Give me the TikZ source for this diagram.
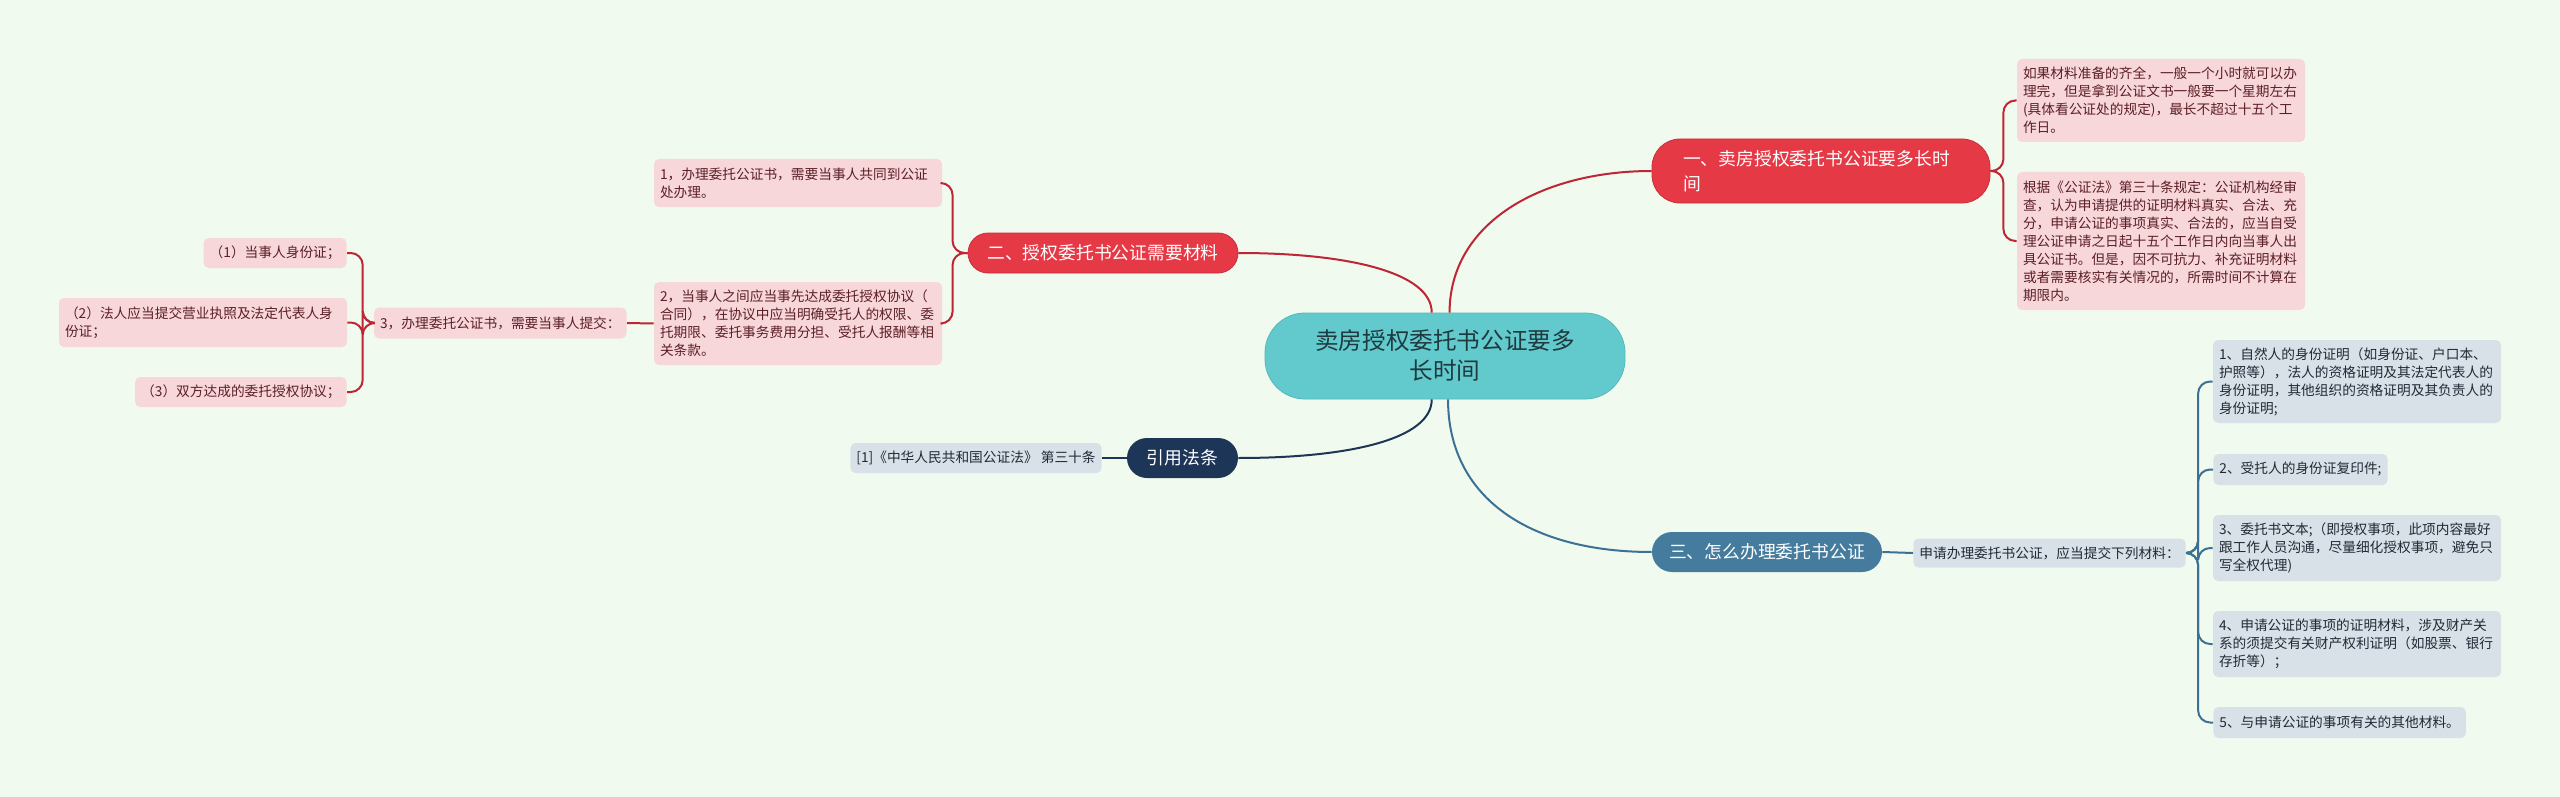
\documentclass[tikz,border=0pt]{standalone}
\usepackage{fontspec}
\setmainfont{Noto Sans CJK SC}
\usetikzlibrary{calc}
\definecolor{bgmint}{HTML}{F1FAEE}
\definecolor{rootteal}{HTML}{62CACD}
\definecolor{rootedge}{HTML}{52B9BC}
\definecolor{roottext}{HTML}{1E3A3F}
\definecolor{topicred}{HTML}{E63946}
\definecolor{topicredge}{HTML}{C92F3C}
\definecolor{linkred}{HTML}{BE2535}
\definecolor{leafpink}{HTML}{F8D7DA}
\definecolor{leafpinktext}{HTML}{5B1F26}
\definecolor{navy}{HTML}{1D3557}
\definecolor{steel}{HTML}{457B9D}
\definecolor{linksteel}{HTML}{3D7194}
\definecolor{leafgray}{HTML}{D9E1E8}
\definecolor{leafgraytext}{HTML}{1F2A36}

\begin{document}
\begin{tikzpicture}[x=0.5pt,y=-0.5pt,
  rootnode/.style={fill=rootteal,draw=rootedge,text=roottext,rounded corners=20pt,
    minimum width=180pt,minimum height=43pt,inner sep=0pt,align=center,
    font=\fontsize{11.8pt}{15pt}\selectfont},
  topicbox/.style={text=white,inner sep=0pt,minimum height=20pt,rounded corners=10pt,
    font=\fontsize{8.9pt}{12.5pt}\selectfont,align=left},
  topicR/.style={topicbox,fill=topicred,draw=topicredge},
  topicN/.style={topicbox,fill=navy},
  topicB/.style={topicbox,fill=steel},
  leafbox/.style={rounded corners=2.5pt,inner xsep=3pt,inner ysep=2pt,align=left,
    font=\fontsize{6.85pt}{9pt}\selectfont},
  leafP/.style={leafbox,fill=leafpink,text=leafpinktext},
  leafG/.style={leafbox,fill=leafgray,text=leafgraytext},
  wide/.style={text width=138pt},
  linkR/.style={draw=linkred,line width=1pt},
  linkN/.style={draw=navy,line width=1pt},
  linkB/.style={draw=linksteel,line width=1pt},
  fork/.style={rounded corners=6pt}]
\fill[bgmint] (0,0) rectangle (2560,797);
\useasboundingbox (0,0) rectangle (2560,797);

% centre and main topics
\node[rootnode] (root) at (1445,356) {卖房授权委托书公证要多\\长时间};
\node[topicR,minimum width=169pt,minimum height=32pt,text width=138pt,rounded corners=14pt] (tTime) at (1821,171) {一、卖房授权委托书公证要多长时\\间};
\node[topicR,minimum width=135pt] (tMat) at (1103,253) {二、授权委托书公证需要材料};
\node[topicN,minimum width=55.5pt] (tCite) at (1182.5,458) {引用法条};
\node[topicB,minimum width=115pt] (tHow) at (1767,552) {三、怎么办理委托书公证};

% leaves of topic one
\node[leafP,wide,minimum height=41.5pt] (lTimeA) at (2161,100.5) {如果材料准备的齐全，一般一个小时就可以办\\理完，但是拿到公证文书一般要一个星期左右\\(具体看公证处的规定)，最长不超过十五个工\\作日。};
\node[leafP,wide,minimum height=69pt] (lTimeB) at (2161,241) {根据《公证法》第三十条规定：公证机构经审\\查，认为申请提供的证明材料真实、合法、充\\分，申请公证的事项真实、合法的，应当自受\\理公证申请之日起十五个工作日内向当事人出\\具公证书。但是，因不可抗力、补充证明材料\\或者需要核实有关情况的，所需时间不计算在\\期限内。};

% leaves of topic two
\node[leafP,wide,minimum height=24pt] (lMatA) at (798,183) {1，办理委托公证书，需要当事人共同到公证\\处办理。};
\node[leafP,wide,minimum height=41.5pt] (lMatB) at (798,323.5) {2，当事人之间应当事先达成委托授权协议（\\合同），在协议中应当明确受托人的权限、委\\托期限、委托事务费用分担、受托人报酬等相\\关条款。};
\node[leafP,anchor=east,minimum height=15.5pt] (lMatC) at (627,323) {3，办理委托公证书，需要当事人提交：};
\node[leafP,anchor=east,minimum height=15pt] (lMatC1) at (347,253) {（1）当事人身份证；};
\node[leafP,wide,minimum height=24.5pt] (lMatC2) at (203,322.5) {（2）法人应当提交营业执照及法定代表人身\\份证；};
\node[leafP,anchor=east,minimum height=15pt] (lMatC3) at (347,392) {（3）双方达成的委托授权协议；};

% citation
\node[leafG,anchor=east,minimum height=15pt] (lCite) at (1102,458) {[1]《中华人民共和国公证法》 第三十条};

% leaves of topic three
\node[leafG,anchor=west,minimum height=14.5pt] (lHow) at (1913,553) {申请办理委托书公证，应当提交下列材料：};
\node[leafG,wide,minimum height=41.5pt] (lHow1) at (2357,381.5) {1、自然人的身份证明（如身份证、户口本、\\护照等），法人的资格证明及其法定代表人的\\身份证明，其他组织的资格证明及其负责人的\\身份证明;};
\node[leafG,anchor=west,minimum height=15.5pt] (lHow2) at (2213,469.5) {2、受托人的身份证复印件;};
\node[leafG,wide,minimum height=33pt] (lHow3) at (2357,548) {3、委托书文本;（即授权事项，此项内容最好\\跟工作人员沟通，尽量细化授权事项，避免只\\写全权代理)};
\node[leafG,wide,minimum height=33pt] (lHow4) at (2357,644) {4、申请公证的事项的证明材料，涉及财产关\\系的须提交有关财产权利证明（如股票、银行\\存折等）；};
\node[leafG,anchor=west,minimum height=15.5pt] (lHow5) at (2213,722.5) {5、与申请公证的事项有关的其他材料。};

% links from the centre
\draw[linkR] (root.84) .. controls +(0,-90) and +(-110,0) .. (tTime.west);
\draw[linkR] (root.107) .. controls +(0,-40) and +(110,0) .. (tMat.east);
\draw[linkN] (root.-107) .. controls +(0,40) and +(110,0) .. (tCite.east);
\draw[linkB] (root.-86) .. controls +(0,100) and +(-120,0) .. (tHow.west);

% forks
\foreach \leaf in {lTimeA,lTimeB}
  \draw[linkR,fork] (tTime.east) -- ++(13,0) |- (\leaf.west);
\foreach \leaf in {lMatA,lMatB}
  \draw[linkR,fork] (tMat.west) -- ++(-15,0) |- (\leaf.east);
\draw[linkR] (lMatB.west) -- (lMatC.east);
\foreach \leaf in {lMatC1,lMatC2,lMatC3}
  \draw[linkR,fork] (lMatC.west) -- ++(-11,0) |- (\leaf.east);
\draw[linkN] (tCite.west) -- (lCite.east);
\draw[linkB] (tHow.east) -- (lHow.west);
\foreach \leaf in {lHow1,lHow2,lHow3,lHow4,lHow5}
  \draw[linkB,fork] (lHow.east) -- ++(12,0) |- (\leaf.west);
\end{tikzpicture}
\end{document}
